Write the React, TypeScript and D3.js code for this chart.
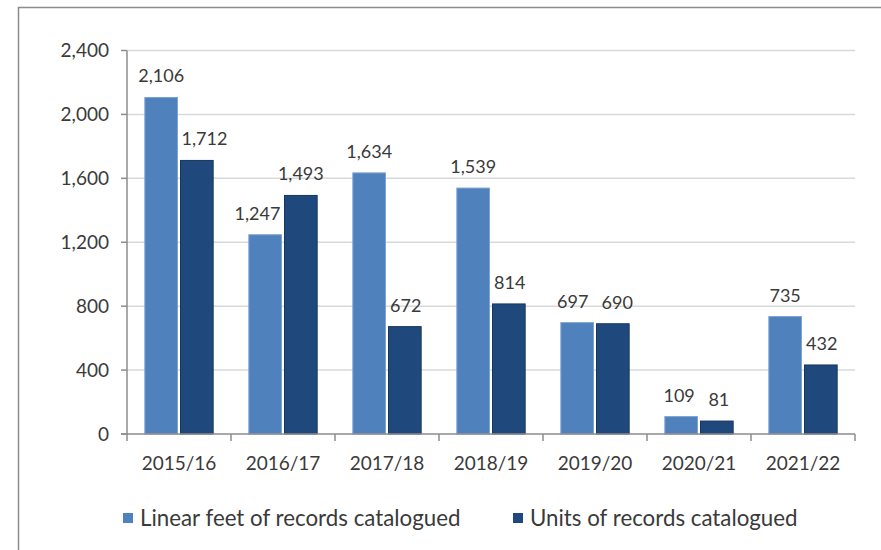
import { scaleBand, scaleLinear, format } from "d3";

const categories = ["2015/16", "2016/17", "2017/18", "2018/19", "2019/20", "2020/21", "2021/22"];
const linearFeet = [2106, 1247, 1634, 1539, 697, 109, 735];
const units = [1712, 1493, 672, 814, 690, 81, 432];
const seriesNames = ["Linear feet of records catalogued", "Units of records catalogued"];
const yTicks = [0, 400, 800, 1200, 1600, 2000, 2400];

const COLORS = ["#4F81BD", "#1F497D"];
const STROKES = ["#7FA3D1", "#17365D"];
const TEXT = "#3a3a3a";
const FONT = "Lato, 'Open Sans', sans-serif";

// rough width of a data label at 18px
const labelWidth = (s: string) =>
    s.split("").reduce((w, ch) => w + (ch === "," ? 4 : 9.5), 0);

export default function App() {
    const width = 881;
    const height = 550;
    const left = 127;
    const right = 855;
    const top = 50.5;
    const bottom = 434;

    const x = scaleBand().domain(categories).range([left, right]);
    const inner = scaleBand()
        .domain(seriesNames)
        .range([0, x.bandwidth()])
        .paddingInner(0.085)
        .paddingOuter(0.5);
    const y = scaleLinear().domain([0, 2400]).range([bottom, top]);
    const fmt = format(",");
    const bw = inner.bandwidth();

    // bars + labels, nudging labels away from the neighbouring bar / label
    const groups = categories.map((c, i) => {
        const vals = [linearFeet[i], units[i]];
        const bars = vals.map((v, si) => {
            const bx = (x(c) ?? 0) + (inner(seriesNames[si]) ?? 0);
            return { v, si, bx, by: y(v) };
        });
        const labels = bars.map((b) => {
            const text = fmt(b.v);
            return { text, w: labelWidth(text), cx: b.bx + bw / 2, base: b.by - 15 };
        });
        const [b0, b1] = bars;
        const [l0, l1] = labels;
        if (l0.base > b1.by) l0.cx = Math.min(l0.cx, b1.bx - 6 - l0.w / 2);
        if (l1.base > b0.by) l1.cx = Math.max(l1.cx, b0.bx + bw + 6 + l1.w / 2);
        if (Math.abs(l0.base - l1.base) < 16) {
            const gap = l1.cx - l1.w / 2 - (l0.cx + l0.w / 2);
            if (gap < 16) {
                l0.cx -= (16 - gap) / 2;
                l1.cx += (16 - gap) / 2;
            }
        }
        return { bars, labels };
    });

    return (
        <svg
            width={width}
            height={height}
            style={{ position: "absolute", left: 0, top: 0 }}
            fontFamily={FONT}
        >
            <rect x={0} y={0} width={width} height={height} fill="#fff" />
            {/* frame */}
            <path d={`M18.5,${height}V7.5H${width}`} fill="none" stroke="#8c8c8c" strokeWidth={1.5} />

            {/* gridlines */}
            {yTicks.map((t) =>
                t > 0 ? (
                    <line key={t} x1={left} x2={right} y1={y(t)} y2={y(t)} stroke="#d9d9d9" strokeWidth={1.5} />
                ) : null,
            )}

            {/* bars */}
            {groups.map((g, i) => (
                <g key={i}>
                    {g.bars.map((b) => (
                        <rect
                            key={b.si}
                            x={b.bx}
                            y={b.by}
                            width={bw}
                            height={bottom - b.by}
                            fill={COLORS[b.si]}
                            stroke={STROKES[b.si]}
                            strokeWidth={1}
                        />
                    ))}
                    {g.labels.map((l, li) => (
                        <text key={li} x={l.cx} y={l.base} textAnchor="middle" fontSize={18} fill={TEXT}>
                            {l.text}
                        </text>
                    ))}
                </g>
            ))}

            {/* axes */}
            <line x1={left} x2={left} y1={top} y2={bottom} stroke="#8c8c8c" strokeWidth={1.5} />
            {yTicks.map((t) => (
                <g key={t}>
                    <line x1={left - 6} x2={left} y1={y(t)} y2={y(t)} stroke="#8c8c8c" strokeWidth={1.5} />
                    <text
                        x={left - 18}
                        y={y(t)}
                        dy="0.35em"
                        textAnchor="end"
                        fontSize={19}
                        fill={TEXT}
                    >
                        {fmt(t)}
                    </text>
                </g>
            ))}
            <line x1={left - 6} x2={right} y1={bottom} y2={bottom} stroke="#8c8c8c" strokeWidth={1.5} />
            {[...categories.map((c) => x(c) ?? 0), right].map((px, i) => (
                <line key={i} x1={px} x2={px} y1={bottom} y2={bottom + 7} stroke="#8c8c8c" strokeWidth={1.5} />
            ))}
            {categories.map((c) => (
                <text
                    key={c}
                    x={(x(c) ?? 0) + x.bandwidth() / 2}
                    y={463}
                    dy="0.35em"
                    textAnchor="middle"
                    fontSize={19}
                    fill={TEXT}
                >
                    {c}
                </text>
            ))}

            {/* legend */}
            {seriesNames.map((name, si) => {
                const lx = si === 0 ? 123 : 513;
                return (
                    <g key={name}>
                        <rect x={lx} y={513} width={10} height={10} fill={COLORS[si]} />
                        <text x={lx + 17} y={518} dy="0.35em" fontSize={22.3} fill={TEXT}>
                            {name}
                        </text>
                    </g>
                );
            })}
        </svg>
    );
}
